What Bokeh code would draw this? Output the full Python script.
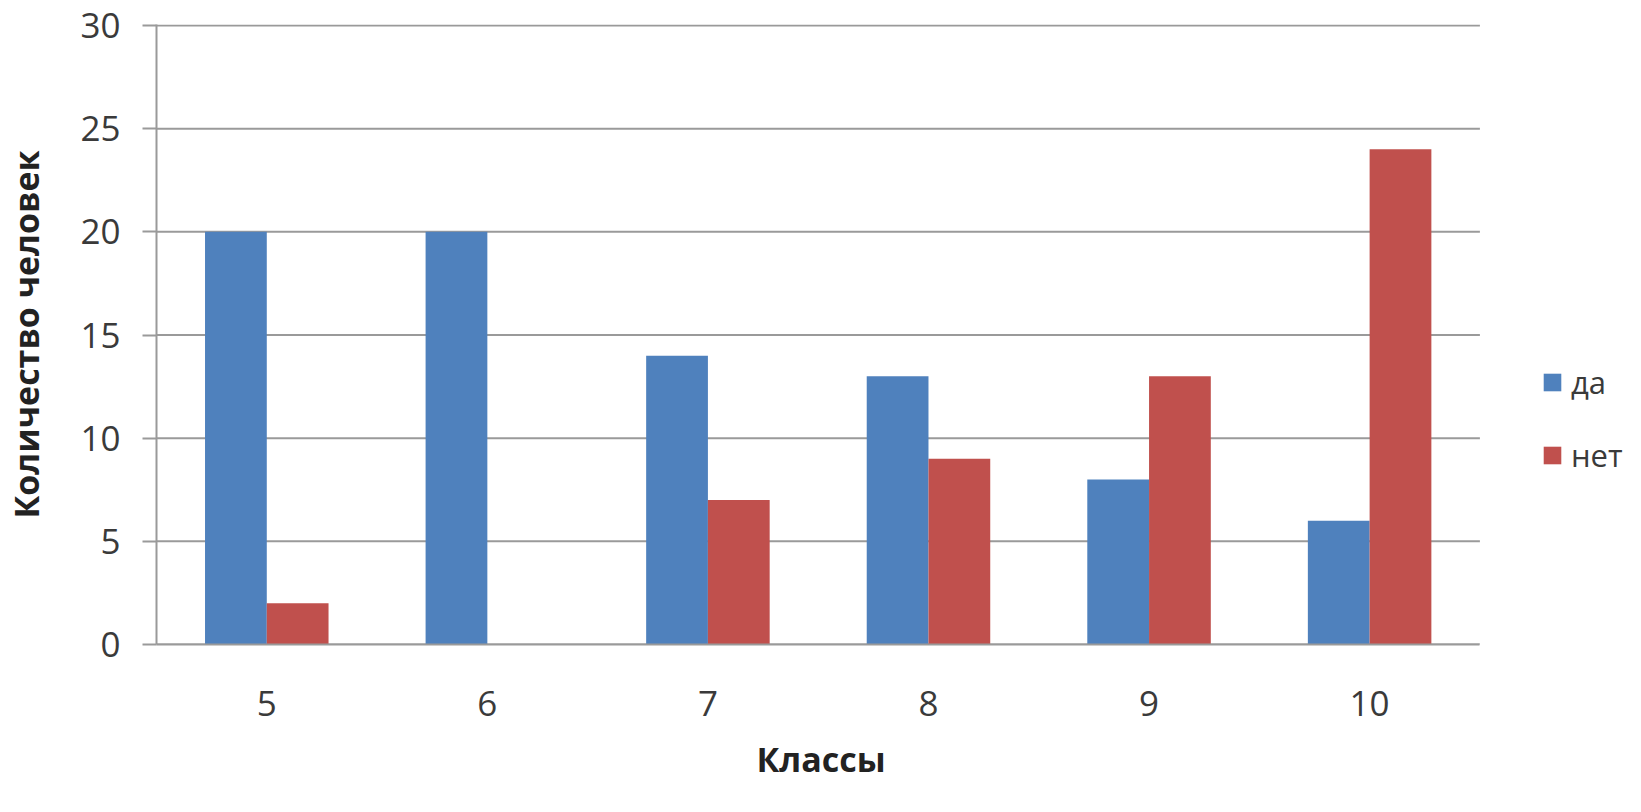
from bokeh.plotting import figure
from bokeh.models import Range1d, FixedTicker, Legend, LegendItem, ColumnDataSource, Title
from bokeh.embed import file_html
from bokeh.resources import INLINE

classes = ["5", "6", "7", "8", "9", "10"]
da = [20, 20, 14, 13, 8, 6]
net = [2, 0, 7, 9, 13, 24]
series_names = ["да", "нет"]
y_ticks = [0, 5, 10, 15, 20, 25, 30]
x_title = "Классы"
y_title = "Количество человек"

BLUE = "#4F81BD"
RED = "#C0504D"
GRID = "#9a9a9a"
FONT = "Open Sans"

n = len(classes)
centers = [i + 0.5 for i in range(n)]
bar_w = 0.28
src = ColumnDataSource(data=dict(
    x_da=[c - bar_w / 2 for c in centers],
    x_net=[c + bar_w / 2 for c in centers],
    da=da, net=net))

# frame spans the plot area plus the legend area to its right
FRAME_LEFT = 152
FIG_W, FIG_H = 1625, 796
cat_px = 1327 / n
x_end = (FIG_W - FRAME_LEFT) / cat_px

p = figure(
    width=FIG_W, height=FIG_H,
    x_range=Range1d(0, x_end),
    y_range=Range1d(0, 30.05),
    output_backend="svg", toolbar_location=None,
    min_border_left=FRAME_LEFT, min_border_right=0,
    min_border_top=24, min_border_bottom=FIG_H - 645,
)
p.outline_line_color = None
p.background_fill_color = "white"
p.border_fill_color = "white"
p.xgrid.grid_line_color = None
p.ygrid.grid_line_color = None

# horizontal gridlines across the categories only
p.segment(x0=[0] * len(y_ticks), x1=[n] * len(y_ticks), y0=y_ticks, y1=y_ticks,
          line_color=GRID, line_width=2)

r1 = p.vbar(x="x_da", top="da", width=bar_w, source=src,
            fill_color=BLUE, line_color=None)
r2 = p.vbar(x="x_net", top="net", width=bar_w, source=src,
            fill_color=RED, line_color=None)

# y axis
p.yaxis.ticker = FixedTicker(ticks=y_ticks)
p.yaxis.axis_line_color = GRID
p.yaxis.axis_line_width = 2
p.yaxis.major_tick_line_color = GRID
p.yaxis.major_tick_line_width = 2
p.yaxis.major_tick_out = 14
p.yaxis.major_tick_in = 0
p.yaxis.minor_tick_line_color = None
p.yaxis.major_label_standoff = 22
p.yaxis.major_label_text_font = FONT
p.yaxis.major_label_text_font_size = "35px"
p.yaxis.major_label_text_color = "#3a3a3a"
p.yaxis.axis_label = y_title
p.yaxis.axis_label_text_font = FONT
p.yaxis.axis_label_text_font_size = "34px"
p.yaxis.axis_label_text_font_style = "bold"
p.yaxis.axis_label_text_color = "#222222"
p.yaxis.axis_label_standoff = 28

# x axis
p.xaxis.bounds = (0, n)
p.xaxis.ticker = FixedTicker(ticks=centers)
p.xaxis.major_label_overrides = {c: lab for c, lab in zip(centers, classes)}
p.xaxis.axis_line_color = GRID
p.xaxis.axis_line_width = 2
p.xaxis.major_tick_line_color = None
p.xaxis.minor_tick_line_color = None
p.xaxis.major_tick_out = 0
p.xaxis.major_tick_in = 0
p.xaxis.major_label_standoff = 46
p.xaxis.major_label_text_font = FONT
p.xaxis.major_label_text_font_size = "35px"
p.xaxis.major_label_text_color = "#3a3a3a"

# x axis title, centred under the category area (not the whole frame)
xt = Title(text=x_title, align="left", offset=600, standoff=30,
           text_font=FONT, text_font_size="34px", text_font_style="bold",
           text_color="#222222")
p.add_layout(xt, "below")

legend = Legend(
    items=[LegendItem(label=series_names[0], renderers=[r1]),
           LegendItem(label=series_names[1], renderers=[r2])],
    location=(1385, 168),
    orientation="vertical",
    border_line_color=None,
    background_fill_alpha=0,
    padding=0, margin=0,
    spacing=31,
    glyph_width=22, glyph_height=22,
    label_height=22,
    label_standoff=8,
    label_text_font=FONT,
    label_text_font_size="31px",
    label_text_color="#3a3a3a",
)
p.add_layout(legend, "center")

open("out.html", "w").write(file_html(p, INLINE))
